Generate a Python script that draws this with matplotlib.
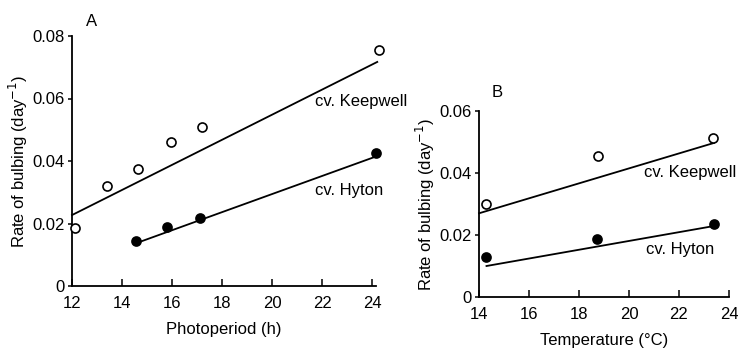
import matplotlib
matplotlib.use("Agg")
import matplotlib.pyplot as plt

plt.rcParams['font.family'] = ['Liberation Sans', 'DejaVu Sans']

# Panel A: photoperiod response
photo_keep_x = [12.1, 13.4, 14.65, 15.95, 17.2, 24.25]
photo_keep_y = [0.0186, 0.032, 0.0374, 0.046, 0.051, 0.0755]
photo_hyt_x = [14.55, 15.8, 17.1, 24.15]
photo_hyt_y = [0.0144, 0.0189, 0.0218, 0.0426]
photo_keep_fit_x = [12.0, 24.2]
photo_keep_fit_y = [0.0227, 0.0717]
photo_hyt_fit_x = [14.6, 24.1]
photo_hyt_fit_y = [0.0138, 0.0413]

# Panel B: temperature response
temp_keep_x = [14.3, 18.75, 23.35]
temp_keep_y = [0.030, 0.0455, 0.0513]
temp_hyt_x = [14.3, 18.7, 23.4]
temp_hyt_y = [0.0129, 0.0187, 0.0235]
temp_keep_fit_x = [14.0, 23.4]
temp_keep_fit_y = [0.027, 0.0497]
temp_hyt_fit_x = [14.3, 23.4]
temp_hyt_fit_y = [0.010, 0.0229]

photo_xticks = [12, 14, 16, 18, 20, 22, 24]
photo_yticks = [0, 0.02, 0.04, 0.06, 0.08]
photo_yticklabels = ['0', '0.02', '0.04', '0.06', '0.08']
temp_xticks = [14, 16, 18, 20, 22, 24]
temp_yticks = [0, 0.02, 0.04, 0.06]
temp_yticklabels = ['0', '0.02', '0.04', '0.06']

W, H = 738, 351
fig = plt.figure(figsize=(W / 100, H / 100), dpi=100)

axA = fig.add_axes([72 / W, (H - 286) / H, (376 - 72) / W, 250 / H])
axB = fig.add_axes([479 / W, (H - 297) / H, 250 / W, 186 / H])

FS = 12
ylab = 'Rate of bulbing (day$^{-1}$)'


def style(ax):
    for s in ('top', 'right'):
        ax.spines[s].set_visible(False)
    for s in ('left', 'bottom'):
        ax.spines[s].set_linewidth(1.3)
    ax.tick_params(axis='x', direction='in', length=5, width=1.1, labelsize=FS, pad=7)
    ax.tick_params(axis='y', direction='out', length=3, width=1.1, labelsize=FS, pad=2)


def draw(ax, kx, ky, hx, hy, kfx, kfy, hfx, hfy):
    ax.plot(kfx, kfy, color='black', lw=1.3, clip_on=False)
    ax.plot(hfx, hfy, color='black', lw=1.3, clip_on=False)
    ax.plot(kx, ky, 'o', ms=6.5, mfc='white', mec='black', mew=1.2,
            linestyle='none', clip_on=False, zorder=3)
    ax.plot(hx, hy, 'o', ms=6.5, mfc='black', mec='black', mew=1.2,
            linestyle='none', clip_on=False, zorder=3)


# Panel A
draw(axA, photo_keep_x, photo_keep_y, photo_hyt_x, photo_hyt_y,
     photo_keep_fit_x, photo_keep_fit_y, photo_hyt_fit_x, photo_hyt_fit_y)
axA.set_xlim(12, 24.15)
axA.set_ylim(0, 0.08)
axA.set_xticks(photo_xticks)
axA.set_yticks(photo_yticks)
axA.set_yticklabels(photo_yticklabels)
style(axA)
axA.set_xlabel('Photoperiod (h)', fontsize=FS, labelpad=8)
axA.set_ylabel(ylab, fontsize=FS, labelpad=2)
axA.text(21.7, 0.059, 'cv. Keepwell', fontsize=FS, va='center', ha='left', clip_on=False)
axA.text(21.7, 0.0307, 'cv. Hyton', fontsize=FS, va='center', ha='left', clip_on=False)
axA.text(12.8, 0.0845, 'A', fontsize=FS, va='center', ha='center', clip_on=False)

# Panel B
draw(axB, temp_keep_x, temp_keep_y, temp_hyt_x, temp_hyt_y,
     temp_keep_fit_x, temp_keep_fit_y, temp_hyt_fit_x, temp_hyt_fit_y)
axB.set_xlim(14, 24)
axB.set_ylim(0, 0.06)
axB.set_xticks(temp_xticks)
axB.set_yticks(temp_yticks)
axB.set_yticklabels(temp_yticklabels)
style(axB)
axB.set_xlabel('Temperature (°C)', fontsize=FS, labelpad=8)
axB.set_ylabel(ylab, fontsize=FS, labelpad=2)
axB.text(20.6, 0.0400, 'cv. Keepwell', fontsize=FS, va='center', ha='left')
axB.text(20.7, 0.0152, 'cv. Hyton', fontsize=FS, va='center', ha='left')
axB.text(14.72, 0.066, 'B', fontsize=FS, va='center', ha='center', clip_on=False)

fig.savefig('out.png', dpi=100, facecolor='white')
